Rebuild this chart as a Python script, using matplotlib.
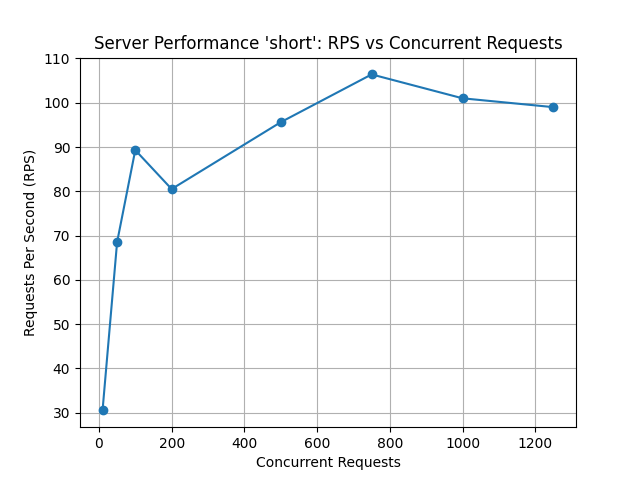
import matplotlib
matplotlib.use("Agg")
import matplotlib.pyplot as plt

concurrency = [10, 50, 100, 200, 500, 750, 1000, 1250]
rps = [30.5, 68.5, 89.3, 80.5, 95.6, 106.4, 101.0, 99.0]

fig, ax = plt.subplots(figsize=(6.4, 4.8), dpi=100)
ax.plot(concurrency, rps, marker="o")
ax.set_title("Server Performance 'short': RPS vs Concurrent Requests")
ax.set_xlabel("Concurrent Requests")
ax.set_ylabel("Requests Per Second (RPS)")
ax.grid(True)
plt.savefig("out.png")
